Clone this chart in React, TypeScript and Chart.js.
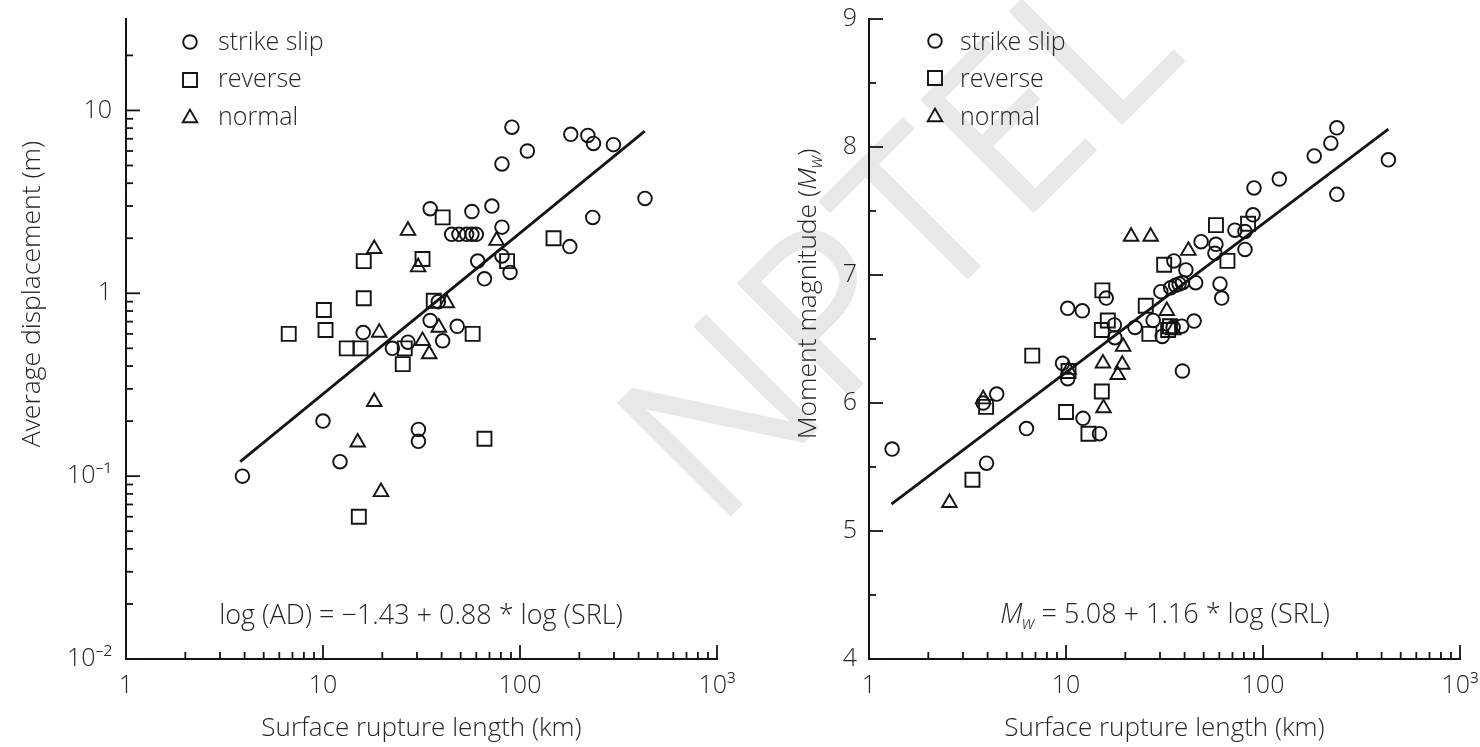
import React, { useEffect, useRef } from 'react';
import { Chart, registerables } from 'chart.js';

Chart.register(...registerables);

const FONT = "'Open Sans', 'Noto Sans', sans-serif";
const WEIGHT = '300';
const INK = '#141414';
const TEXT = '#262626';

// ---------- shared x axis (surface rupture length, km) ----------
const srlTickValues = [1, 10, 100, 1000];
const srlTickLabels = ['1', '10', '100', '10³'];
const srlMinorTicks = [2, 3, 4, 5, 6, 7, 8, 9, 20, 30, 40, 50, 60, 70, 80, 90, 200, 300, 400, 500, 600, 700, 800, 900];

// ---------- left panel: average displacement ----------
const adTickValues = [0.01, 0.1, 1, 10];
const adTickLabels = ['10⁻²', '10⁻¹', '1', '10'];
const adMinorTicks = [0.02, 0.03, 0.04, 0.05, 0.06, 0.07, 0.08, 0.09, 0.2, 0.3, 0.4, 0.5, 0.6, 0.7, 0.8, 0.9, 2, 3, 4, 5, 6, 7, 8, 9, 20];

const adStrikeSlipSRL = [91, 109, 81, 181, 221, 236, 298, 431, 234, 179, 35, 57, 72, 81, 45, 49, 53.6, 57, 60, 81, 61, 89, 66, 38.5, 35, 48, 40.5, 27, 22.5, 16, 10, 12.2, 30.5, 30.5, 3.9];
const adStrikeSlipAD = [8.1, 6.0, 5.1, 7.4, 7.3, 6.6, 6.5, 3.3, 2.6, 1.8, 2.9, 2.8, 3.0, 2.3, 2.1, 2.1, 2.1, 2.1, 2.1, 1.6, 1.5, 1.3, 1.2, 0.9, 0.71, 0.66, 0.55, 0.54, 0.5, 0.61, 0.2, 0.12, 0.18, 0.155, 0.1];

const adReverseSRL = [40.5, 32, 148, 86, 36.5, 57.5, 26, 25.4, 16.1, 16.1, 10.1, 10.3, 6.7, 13.2, 15.5, 66, 15.2];
const adReverseAD = [2.6, 1.54, 2.0, 1.5, 0.91, 0.6, 0.5, 0.41, 1.5, 0.94, 0.81, 0.63, 0.6, 0.5, 0.5, 0.16, 0.06];

const adNormalSRL = [27, 18.2, 30.4, 76, 42.5, 38.7, 19.3, 32, 34.6, 18.2, 15, 19.7];
const adNormalAD = [2.2, 1.75, 1.39, 1.94, 0.885, 0.65, 0.61, 0.55, 0.465, 0.255, 0.153, 0.082];

const adFitSRL = [3.8, 430];
const adFitAD = [0.12, 7.7];

// ---------- right panel: moment magnitude ----------
const mwTickValues = [4, 5, 6, 7, 8, 9];
const mwTickLabels = ['4', '5', '6', '7', '8', '9'];
const mwMinorTicks = [4.5, 5.5, 6.5, 7.5, 8.5];

const mwStrikeSlipSRL = [1.31, 3.8, 4.45, 3.95, 6.3, 12.2, 14.8, 9.6, 10.2, 10.2, 12.1, 16, 17.6, 17.7, 22.4, 27.7, 30.8, 35, 38.7, 44.7, 39, 30.3, 34, 36, 37.5, 39, 35.3, 40.6, 45.5, 48.5, 57.7, 57, 60.5, 61.7, 72, 81, 81, 89, 90, 121, 182, 221, 237, 237, 433];
const mwStrikeSlipMw = [5.64, 6.0, 6.07, 5.53, 5.8, 5.88, 5.76, 6.31, 6.19, 6.74, 6.72, 6.82, 6.61, 6.51, 6.59, 6.645, 6.52, 6.59, 6.6, 6.64, 6.25, 6.87, 6.9, 6.92, 6.93, 6.94, 7.11, 7.04, 6.94, 7.26, 7.24, 7.17, 6.93, 6.82, 7.35, 7.34, 7.2, 7.47, 7.68, 7.75, 7.93, 8.03, 8.15, 7.63, 7.9];

const mwReverseSRL = [3.93, 3.35, 10, 13, 15.2, 6.74, 10.3, 15.3, 16.3, 15.2, 25.4, 26.5, 31.5, 33.7, 33, 57.7, 66, 84];
const mwReverseMw = [5.97, 5.4, 5.93, 5.76, 6.09, 6.37, 6.25, 6.88, 6.645, 6.57, 6.76, 6.54, 7.08, 6.6, 6.57, 7.39, 7.11, 7.4];

const mwNormalSRL = [2.56, 3.8, 15.5, 21.4, 26.9, 41.8, 32.5, 19.5, 15.4, 19.3, 18.3, 35, 10.3];
const mwNormalMw = [5.22, 6.03, 5.96, 7.3, 7.3, 7.19, 6.72, 6.44, 6.31, 6.3, 6.22, 6.57, 6.26];

const mwFitSRL = [1.3, 433];
const mwFitMw = [5.21, 8.14];

// ---------- helpers ----------
type Part = { t: string; italic?: boolean; sub?: boolean };

function partFont(p: Part, size: number) {
  const s = p.sub ? Math.round(size * 0.68) : size;
  return `${p.italic ? 'italic ' : ''}${WEIGHT} ${s}px ${FONT}`;
}

function drawParts(ctx: CanvasRenderingContext2D, parts: Part[], size: number, cx: number, baseline: number) {
  const widths = parts.map((p) => {
    ctx.font = partFont(p, size);
    return ctx.measureText(p.t).width;
  });
  const total = widths.reduce((a, b) => a + b, 0);
  let x = cx - total / 2;
  ctx.textAlign = 'left';
  ctx.textBaseline = 'alphabetic';
  ctx.fillStyle = TEXT;
  parts.forEach((p, i) => {
    ctx.font = partFont(p, size);
    ctx.fillText(p.t, x, baseline + (p.sub ? size * 0.24 : 0));
    x += widths[i];
  });
}

function drawMarker(ctx: CanvasRenderingContext2D, style: string, r: number, x: number, y: number) {
  ctx.beginPath();
  if (style === 'circle') {
    ctx.arc(x, y, r, 0, Math.PI * 2);
  } else if (style === 'rect') {
    const h = r * Math.SQRT1_2;
    ctx.rect(x - h, y - h, 2 * h, 2 * h);
  } else {
    let a = 0;
    ctx.moveTo(x + Math.sin(a) * r, y - Math.cos(a) * r);
    a += (2 * Math.PI) / 3;
    ctx.lineTo(x + Math.sin(a) * r, y - Math.cos(a) * r);
    a += (2 * Math.PI) / 3;
    ctx.lineTo(x + Math.sin(a) * r, y - Math.cos(a) * r);
    ctx.closePath();
  }
  ctx.stroke();
}

type Decor = {
  xMajor: number[];
  xMinor: number[];
  yMajor: number[];
  yMinor: number[];
  legendMarkerX: number;
  legendTextX: number;
  legendCenters: number[];
  legendBaselines: number[];
  eqParts: Part[];
  eqX: number;
  eqBaseline: number;
  yTitleParts: Part[];
  yTitleBaselineX: number;
  yTitleCenterY: number;
};

function makeDecor(d: Decor) {
  return {
    id: 'decor',
    afterDraw(chart: any) {
      const ctx: CanvasRenderingContext2D = chart.ctx;
      const area = chart.chartArea;
      const xs = chart.scales.x;
      const ys = chart.scales.y;
      ctx.save();
      // inward tick marks
      ctx.strokeStyle = INK;
      ctx.lineWidth = 1.8;
      ctx.lineCap = 'butt';
      const xTick = (v: number, len: number) => {
        const p = xs.getPixelForValue(v);
        ctx.beginPath();
        ctx.moveTo(p, area.bottom);
        ctx.lineTo(p, area.bottom - len);
        ctx.stroke();
      };
      const yTick = (v: number, len: number) => {
        const p = ys.getPixelForValue(v);
        ctx.beginPath();
        ctx.moveTo(area.left, p);
        ctx.lineTo(area.left + len, p);
        ctx.stroke();
      };
      d.xMajor.forEach((v) => xTick(v, 14));
      d.xMinor.forEach((v) => xTick(v, 7));
      d.yMajor.forEach((v) => yTick(v, 14));
      d.yMinor.forEach((v) => yTick(v, 7));

      // legend built from the datasets
      const items = chart.data.datasets.filter((ds: any) => ds.inLegend);
      items.forEach((ds: any, i: number) => {
        ctx.strokeStyle = INK;
        ctx.lineWidth = 1.9;
        drawMarker(ctx, ds.pointStyle, ds.pointRadius, d.legendMarkerX, d.legendCenters[i]);
        ctx.font = `${WEIGHT} 25px ${FONT}`;
        ctx.fillStyle = TEXT;
        ctx.textAlign = 'left';
        ctx.textBaseline = 'alphabetic';
        ctx.fillText(ds.label, d.legendTextX, d.legendBaselines[i]);
      });

      // regression equation
      drawParts(ctx, d.eqParts, 27, d.eqX, d.eqBaseline);

      // y axis title (rotated)
      ctx.translate(d.yTitleBaselineX, d.yTitleCenterY);
      ctx.rotate(-Math.PI / 2);
      drawParts(ctx, d.yTitleParts, 26.5, 0, 0);
      ctx.restore();
    },
  };
}

function pts(xs: number[], ys: number[]) {
  return xs.map((x, i) => ({ x, y: ys[i] }));
}

function markerSet(label: string, style: string, r: number, xs: number[], ys: number[]) {
  return {
    label,
    inLegend: true,
    data: pts(xs, ys),
    pointStyle: style,
    pointRadius: r,
    pointHoverRadius: r,
    pointBorderWidth: 1.9,
    pointBorderColor: INK,
    pointBackgroundColor: 'rgba(0,0,0,0)',
    borderColor: INK,
    backgroundColor: 'rgba(0,0,0,0)',
    showLine: false,
  };
}

function fitSet(xs: number[], ys: number[]) {
  return {
    label: 'fit',
    inLegend: false,
    data: pts(xs, ys),
    showLine: true,
    pointRadius: 0,
    pointHoverRadius: 0,
    borderColor: INK,
    borderWidth: 2.8,
    fill: false,
  };
}

function labelFrom(values: number[], labels: string[]) {
  return (v: any) => {
    const i = values.findIndex((t) => Math.abs(t - Number(v)) < 1e-9 * Math.max(1, t));
    return i >= 0 ? labels[i] : '';
  };
}

const tickFont = { family: FONT, size: 25, weight: WEIGHT };

function xScale() {
  return {
    type: 'logarithmic',
    position: 'bottom',
    min: 1,
    max: 1000,
    afterBuildTicks: (s: any) => {
      s.ticks = srlTickValues.map((v) => ({ value: v }));
    },
    afterFit: (s: any) => {
      s.height = 88;
      s.paddingLeft = 0;
      s.paddingRight = 0;
    },
    ticks: {
      autoSkip: false,
      maxRotation: 0,
      minRotation: 0,
      padding: 12,
      color: TEXT,
      font: tickFont,
      callback: labelFrom(srlTickValues, srlTickLabels),
    },
    grid: { display: true, drawOnChartArea: false, drawTicks: false },
    border: { display: true, color: INK, width: 2 },
    title: {
      display: true,
      text: 'Surface rupture length (km)',
      color: TEXT,
      font: { family: FONT, size: 26, weight: WEIGHT },
      padding: { top: 0, bottom: 3 },
    },
  };
}

function buildLeft(canvas: HTMLCanvasElement) {
  return new Chart(canvas, {
    type: 'scatter',
    data: {
      datasets: [
        markerSet('strike slip', 'circle', 6.8, adStrikeSlipSRL, adStrikeSlipAD),
        markerSet('reverse', 'rect', 9.9, adReverseSRL, adReverseAD),
        markerSet('normal', 'triangle', 8.4, adNormalSRL, adNormalAD),
        fitSet(adFitSRL, adFitAD),
      ] as any,
    },
    options: {
      responsive: false,
      animation: false,
      events: [],
      layout: { padding: { top: 19, right: 23, bottom: 0, left: 0 } },
      plugins: { legend: { display: false }, tooltip: { enabled: false } },
      scales: {
        x: xScale() as any,
        y: {
          type: 'logarithmic',
          min: 0.01,
          max: 31.6228,
          afterBuildTicks: (s: any) => {
            s.ticks = adTickValues.map((v) => ({ value: v }));
          },
          afterFit: (s: any) => {
            s.width = 126;
            s.paddingTop = 0;
            s.paddingBottom = 0;
          },
          ticks: {
            autoSkip: false,
            padding: 14,
            color: TEXT,
            font: tickFont,
            callback: labelFrom(adTickValues, adTickLabels),
          },
          grid: { display: true, drawOnChartArea: false, drawTicks: false },
          border: { display: true, color: INK, width: 2 },
        } as any,
      },
    },
    plugins: [
      makeDecor({
        xMajor: srlTickValues,
        xMinor: srlMinorTicks,
        yMajor: adTickValues,
        yMinor: adMinorTicks,
        legendMarkerX: 190,
        legendTextX: 218,
        legendCenters: [42, 80, 118],
        legendBaselines: [50, 87, 125],
        eqParts: [{ t: 'log (AD) = −1.43 + 0.88 * log (SRL)' }],
        eqX: 421,
        eqBaseline: 624,
        yTitleParts: [{ t: 'Average displacement (m)' }],
        yTitleBaselineX: 40,
        yTitleCenterY: 294,
      }),
    ],
  });
}

function buildRight(canvas: HTMLCanvasElement) {
  return new Chart(canvas, {
    type: 'scatter',
    data: {
      datasets: [
        markerSet('strike slip', 'circle', 6.8, mwStrikeSlipSRL, mwStrikeSlipMw),
        markerSet('reverse', 'rect', 9.9, mwReverseSRL, mwReverseMw),
        markerSet('normal', 'triangle', 8.4, mwNormalSRL, mwNormalMw),
        fitSet(mwFitSRL, mwFitMw),
      ] as any,
    },
    options: {
      responsive: false,
      animation: false,
      events: [],
      layout: { padding: { top: 19, right: 20, bottom: 0, left: 0 } },
      plugins: { legend: { display: false }, tooltip: { enabled: false } },
      scales: {
        x: xScale() as any,
        y: {
          type: 'linear',
          min: 4,
          max: 9,
          afterBuildTicks: (s: any) => {
            s.ticks = mwTickValues.map((v) => ({ value: v }));
          },
          afterFit: (s: any) => {
            s.width = 129;
            s.paddingTop = 0;
            s.paddingBottom = 0;
          },
          ticks: {
            autoSkip: false,
            padding: 12,
            color: TEXT,
            font: tickFont,
            callback: labelFrom(mwTickValues, mwTickLabels),
          },
          grid: { display: true, drawOnChartArea: false, drawTicks: false },
          border: { display: true, color: INK, width: 2 },
        } as any,
      },
    },
    plugins: [
      makeDecor({
        xMajor: srlTickValues,
        xMinor: srlMinorTicks,
        yMajor: mwTickValues,
        yMinor: mwMinorTicks,
        legendMarkerX: 195,
        legendTextX: 220,
        legendCenters: [41, 78, 117],
        legendBaselines: [50, 87, 125],
        eqParts: [{ t: 'M', italic: true }, { t: 'w', italic: true, sub: true }, { t: ' = 5.08 + 1.16 * log (SRL)' }],
        eqX: 425,
        eqBaseline: 623,
        yTitleParts: [{ t: 'Moment magnitude (' }, { t: 'M', italic: true }, { t: 'w', italic: true, sub: true }, { t: ')' }],
        yTitleBaselineX: 76,
        yTitleCenterY: 294,
      }),
    ],
  });
}

export default function App() {
  const leftRef = useRef<HTMLCanvasElement>(null);
  const rightRef = useRef<HTMLCanvasElement>(null);

  useEffect(() => {
    const a = buildLeft(leftRef.current as HTMLCanvasElement);
    const b = buildRight(rightRef.current as HTMLCanvasElement);
    return () => {
      a.destroy();
      b.destroy();
    };
  }, []);

  return (
    <div style={{ position: 'fixed', left: 0, top: 0, width: 1480, height: 747, background: '#ffffff', overflow: 'hidden' }}>
      <svg width={1480} height={747} style={{ position: 'absolute', left: 0, top: 0 }}>
        <text
          x={715}
          y={532}
          transform="rotate(-45 715 532)"
          fontFamily="'Open Sans', sans-serif"
          fontWeight={400}
          fontSize={225}
          fill="#e8e8e8"
        >
          NPTEL
        </text>
      </svg>
      <canvas ref={leftRef} width={740} height={747} style={{ position: 'absolute', left: 0, top: 0, width: 740, height: 747 }} />
      <canvas ref={rightRef} width={740} height={747} style={{ position: 'absolute', left: 740, top: 0, width: 740, height: 747 }} />
    </div>
  );
}
